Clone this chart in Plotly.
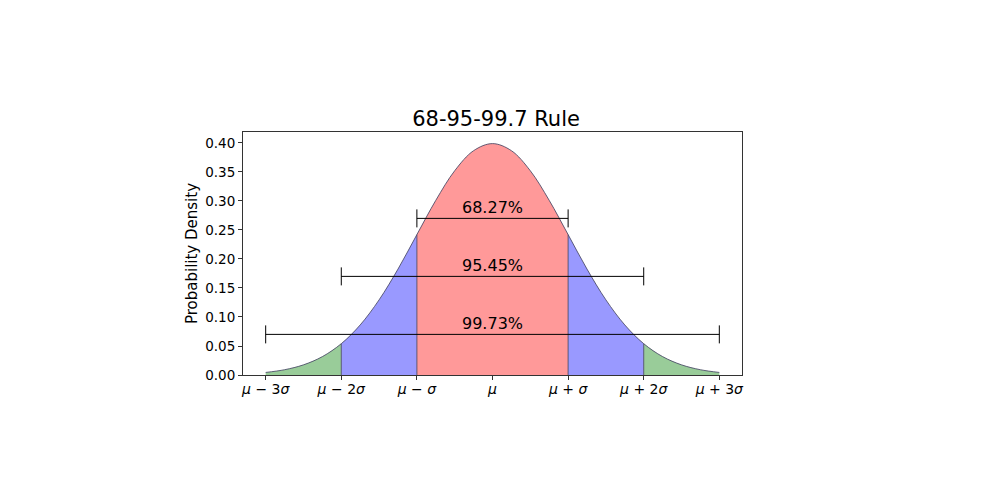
"""
68-95-99.7 rule chart
Normal density with shaded sigma bands, rebuilt in Plotly
"""

import plotly.graph_objects as go

# curve samples (in sigma units) and density values
x_sigma = [-3.0, -2.75, -2.5, -2.25, -2.0, -1.75, -1.5, -1.25, -1.0, -0.75, -0.5, -0.25,
           0.0, 0.25, 0.5, 0.75, 1.0, 1.25, 1.5, 1.75, 2.0, 2.25, 2.5, 2.75, 3.0]
density = [0.0044, 0.0091, 0.0175, 0.0317, 0.0540, 0.0863, 0.1295, 0.1826, 0.2420,
           0.3011, 0.3521, 0.3867, 0.3989, 0.3867, 0.3521, 0.3011, 0.2420, 0.1826,
           0.1295, 0.0863, 0.0540, 0.0317, 0.0175, 0.0091, 0.0044]

# shaded bands: (from, to, colour)
band_lo = [-3, -2, -1, 1, 2]
band_hi = [-2, -1, 1, 2, 3]
band_colors = ["#99cc99", "#9999ff", "#ff9999", "#9999ff", "#99cc99"]

# range bars and their labels
bar_half_width = [1, 2, 3]
bar_height = [0.27, 0.17, 0.07]
bar_labels = ["68.27%", "95.45%", "99.73%"]

tick_vals = [-3, -2, -1, 0, 1, 2, 3]
tick_text = ["<i>μ</i> − 3<i>σ</i>", "<i>μ</i> − 2<i>σ</i>", "<i>μ</i> − <i>σ</i>", "<i>μ</i>",
             "<i>μ</i> + <i>σ</i>", "<i>μ</i> + 2<i>σ</i>", "<i>μ</i> + 3<i>σ</i>"]

FONT = "DejaVu Sans, sans-serif"
EDGE = "rgba(70,70,100,0.85)"

fig = go.Figure()

# filled bands
for lo, hi, col in zip(band_lo, band_hi, band_colors):
    xs = [x for x in x_sigma if lo <= x <= hi]
    ys = [y for x, y in zip(x_sigma, density) if lo <= x <= hi]
    fig.add_trace(go.Scatter(
        x=xs, y=ys, mode="lines", fill="tozeroy", fillcolor=col,
        line=dict(width=0, shape="spline", color=col), hoverinfo="skip", showlegend=False
    ))

# vertical edges between bands
edge_x, edge_y = [], []
for x, y in zip(x_sigma, density):
    if x in band_lo[1:]:
        edge_x += [x, x, None]
        edge_y += [0, y, None]
fig.add_trace(go.Scatter(x=edge_x, y=edge_y, mode="lines",
                         line=dict(color=EDGE, width=1), hoverinfo="skip", showlegend=False))

# the curve itself
fig.add_trace(go.Scatter(x=x_sigma, y=density, mode="lines",
                         line=dict(color=EDGE, width=1, shape="spline"),
                         hoverinfo="skip", showlegend=False))

# range bars
fig.add_trace(go.Scatter(
    x=[0] * len(bar_height), y=bar_height, mode="markers",
    marker=dict(size=1, color="rgba(0,0,0,0)"),
    error_x=dict(type="data", array=bar_half_width, symmetric=True,
                 color="black", thickness=1, width=9),
    hoverinfo="skip", showlegend=False
))

for yv, label in zip(bar_height, bar_labels):
    fig.add_annotation(x=0, y=yv, text=label, showarrow=False, yanchor="bottom",
                       yshift=-1, font=dict(family=FONT, size=16, color="black"))

# page body has an 8px margin, so the figure is a bit smaller than the window
fig.update_layout(
    width=989, height=491,
    margin=dict(l=235, r=255, t=124, b=124),
    paper_bgcolor="white", plot_bgcolor="white",
    font=dict(family=FONT, size=14, color="black"),
    title=dict(text="68-95-99.7 Rule", x=0.4935, xanchor="center",
               yref="container", y=1 - 111 / 491, yanchor="middle",
               font=dict(family=FONT, size=21, color="black")),
)
fig.update_xaxes(range=[-3.3, 3.3], tickvals=tick_vals, ticktext=tick_text,
                 showgrid=False, zeroline=False, showline=True, mirror=True,
                 linecolor="#333", linewidth=1, ticks="outside", ticklen=4,
                 tickcolor="#333", tickfont=dict(family=FONT, size=14),
                 ticklabelstandoff=-3)
fig.update_yaxes(range=[0, 0.4189], tickvals=[0, 0.05, 0.10, 0.15, 0.20, 0.25, 0.30, 0.35, 0.40],
                 tickformat=".2f", showgrid=False, zeroline=False, showline=True, mirror=True,
                 linecolor="#333", linewidth=1, ticks="outside", ticklen=4,
                 tickcolor="#333", tickfont=dict(family=FONT, size=13.5),
                 title=dict(text="Probability Density", standoff=3,
                            font=dict(family=FONT, size=15)))

fig.write_html("out.html")
